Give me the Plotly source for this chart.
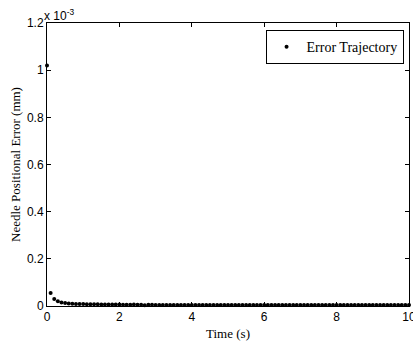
import plotly.graph_objects as go

# time samples (s)
time_s = [round(i * 0.1, 1) for i in range(101)]
# error values in units of 1e-3 mm
error_e3 = [
    1.020, 0.055, 0.030, 0.020, 0.015, 0.013, 0.011, 0.010, 0.009, 0.008,
    0.008, 0.007, 0.007, 0.007, 0.007, 0.006, 0.006, 0.006, 0.006, 0.006,
    0.006, 0.005, 0.005, 0.005, 0.006, 0.005, 0.005, 0.003, 0.005, 0.005,
    0.004, 0.004, 0.004, 0.004, 0.004, 0.004, 0.004, 0.004, 0.004, 0.004,
    0.004, 0.004, 0.004, 0.004, 0.004, 0.004, 0.004, 0.004, 0.004, 0.004,
    0.004, 0.004, 0.004, 0.004, 0.004, 0.004, 0.004, 0.004, 0.004, 0.004,
    0.004, 0.004, 0.004, 0.004, 0.004, 0.004, 0.004, 0.004, 0.004, 0.004,
    0.004, 0.004, 0.004, 0.004, 0.004, 0.004, 0.004, 0.004, 0.004, 0.004,
    0.004, 0.004, 0.004, 0.004, 0.004, 0.004, 0.004, 0.004, 0.004, 0.004,
    0.004, 0.004, 0.004, 0.004, 0.004, 0.004, 0.004, 0.004, 0.004, 0.004,
    0.004,
]
x_ticks = [0, 2, 4, 6, 8, 10]
y_ticks = [0, 0.2, 0.4, 0.6, 0.8, 1.0, 1.2]
y_tick_text = ["0", "0.2", "0.4", "0.6", "0.8", "1", "1.2"]

fig = go.Figure()
fig.add_trace(go.Scatter(
    x=time_s, y=error_e3, mode="markers", name="Error Trajectory",
    marker=dict(color="black", size=4),
    cliponaxis=False,
))

axis_common = dict(
    showline=True, linecolor="black", linewidth=1, mirror="ticks",
    ticks="inside", ticklen=4, tickcolor="black", showgrid=False, zeroline=False,
    ticklabeloverflow="allow", automargin=False,
    tickfont=dict(family="Liberation Sans, Arial", size=12, color="black"),
)
fig.update_xaxes(range=[0, 10], tickvals=x_ticks, ticktext=[str(v) for v in x_ticks],
                 title=dict(text="Time (s)", font=dict(family="Liberation Serif, Times New Roman", size=13, color="black"), standoff=5),
                 **axis_common)
fig.update_yaxes(range=[0, 1.2], tickvals=y_ticks, ticktext=y_tick_text,
                 title=dict(text="Needle Positional Error (mm)", font=dict(family="Liberation Serif, Times New Roman", size=13, color="black"), standoff=3),
                 **axis_common)

fig.add_annotation(xref="paper", yref="paper", x=0, y=1, xanchor="left", yanchor="bottom",
                   text="x 10<sup>-3</sup>", showarrow=False, xshift=-5, yshift=-2,
                   font=dict(family="Liberation Sans, Arial", size=12, color="black"))

fig.update_layout(
    width=413, height=345,
    margin=dict(l=47, r=4, t=23, b=39, autoexpand=False),
    paper_bgcolor="white", plot_bgcolor="white",
    showlegend=True,
    legend=dict(x=0.985, y=0.975, xanchor="right", yanchor="top",
                bgcolor="white", bordercolor="black", borderwidth=1,
                font=dict(family="Liberation Serif, Times New Roman", size=14, color="black"),
                itemsizing="trace", tracegroupgap=0),
)

fig.write_html("out.html")
